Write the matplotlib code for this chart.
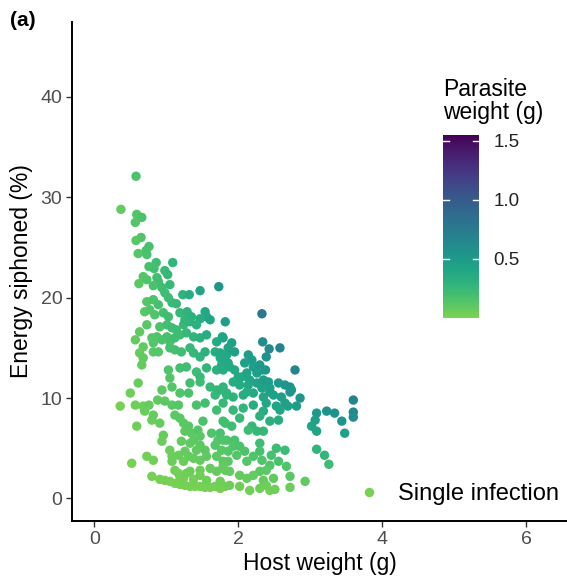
import numpy as np
import matplotlib
matplotlib.use("Agg")
import matplotlib.pyplot as plt
from matplotlib.colors import ListedColormap, Normalize
from matplotlib.lines import Line2D

plt.rcParams['font.family'] = ['Liberation Sans', 'DejaVu Sans']

# ---------------- data (host weight g, energy siphoned %, parasite weight g) ----------------
host_a = [0.58, 0.37, 0.59, 0.66, 0.57, 0.65, 0.58, 0.76, 0.72, 0.61, 0.73, 0.86, 0.76, 0.83,
          1.09, 0.98, 1.02, 0.68, 0.73, 0.62, 0.87, 0.89, 1.05, 0.82, 1.73, 1.47]
energy_a = [32.1, 28.8, 28.3, 28.0, 27.5, 26.0, 25.7, 25.1, 24.7, 24.4, 24.3, 23.5, 23.1, 22.9,
            23.5, 22.7, 22.3, 22.1, 21.8, 21.4, 22.0, 21.6, 21.3, 21.2, 21.1, 20.7]
parasite_a = [0.16, 0.07, 0.14, 0.17, 0.13, 0.15, 0.12, 0.18, 0.17, 0.13, 0.17, 0.21, 0.17, 0.19,
              0.29, 0.24, 0.25, 0.14, 0.15, 0.11, 0.20, 0.20, 0.25, 0.17, 0.53, 0.41]

host_b = [0.73, 0.82, 0.89, 0.94, 0.98, 1.03, 1.08, 1.14, 1.23, 1.32,
          0.70, 0.77, 0.84, 0.96, 1.03, 1.19, 1.29, 1.35, 1.54, 1.56, 1.47, 1.61,
          0.73, 0.63, 0.57, 0.91, 1.01, 1.08, 1.14, 1.24, 1.33, 1.42, 1.26,
          0.80, 0.87, 0.82, 0.94, 1.01, 1.05, 1.12, 1.19, 1.28, 1.38, 1.47, 1.56, 1.70, 1.79,
          0.68, 0.63, 0.68, 0.82, 0.89, 1.05, 1.12, 1.21, 1.33, 1.38, 1.47, 1.54, 1.68, 1.75, 1.84,
          0.66, 1.03, 1.05, 1.19, 1.28, 1.42, 1.47, 1.56, 1.70, 1.77, 1.86,
          0.61, 0.50, 0.94, 1.08, 1.19, 1.33, 1.47, 1.61, 1.70, 1.79]
energy_b = [19.6, 19.8, 19.3, 21.0, 20.5, 20.0, 19.5, 19.4, 20.3, 20.3,
            18.6, 18.8, 18.3, 18.5, 18.1, 18.5, 18.6, 18.1, 18.6, 18.1, 17.9, 17.8,
            17.3, 16.6, 15.8, 17.1, 17.3, 17.0, 16.8, 17.3, 17.6, 17.3, 17.8,
            16.0, 16.1, 15.5, 15.8, 16.1, 15.6, 16.0, 16.3, 16.5, 16.1, 16.0, 16.3, 15.6, 16.0,
            15.1, 14.5, 14.0, 14.6, 14.6, 15.0, 14.8, 14.6, 15.0, 14.5, 14.1, 14.6, 14.6, 14.0, 14.3,
            13.3, 12.8, 12.0, 13.0, 13.1, 12.6, 12.1, 13.0, 12.8, 13.3, 13.5,
            11.5, 10.5, 10.8, 11.1, 10.5, 11.5, 11.6, 11.1, 10.8, 11.1]
parasite_b = [0.13, 0.16, 0.18, 0.21, 0.22, 0.23, 0.24, 0.26, 0.30, 0.34,
              0.12, 0.14, 0.15, 0.19, 0.21, 0.26, 0.30, 0.31, 0.39, 0.39, 0.35, 0.40,
              0.12, 0.09, 0.07, 0.16, 0.19, 0.21, 0.22, 0.26, 0.30, 0.32, 0.28,
              0.13, 0.14, 0.13, 0.16, 0.18, 0.18, 0.21, 0.23, 0.26, 0.29, 0.31, 0.35, 0.38, 0.42,
              0.09, 0.08, 0.09, 0.12, 0.13, 0.18, 0.19, 0.21, 0.25, 0.26, 0.28, 0.31, 0.35, 0.36, 0.39,
              0.08, 0.15, 0.14, 0.19, 0.21, 0.23, 0.24, 0.28, 0.31, 0.34, 0.38,
              0.06, 0.04, 0.11, 0.14, 0.15, 0.19, 0.23, 0.25, 0.26, 0.29]

host_c = [0.36, 0.57, 0.68, 0.76, 0.70, 0.80, 0.82, 0.91, 0.59,
          0.88, 0.98, 1.08, 1.17, 1.31, 1.42, 1.54, 1.68, 1.79, 1.84,
          1.12, 1.19, 1.24, 1.31, 1.26, 1.35, 1.44, 1.47, 1.38, 1.51, 1.70, 1.63, 1.72, 1.82, 1.84,
          0.96, 0.94, 1.21, 1.33, 1.47, 1.42, 1.54, 1.68, 1.77, 1.86,
          1.05, 1.08, 1.17, 1.26, 1.31, 1.08, 1.24, 1.38, 1.47, 1.56, 1.70, 1.79, 1.86,
          0.73, 0.82, 0.52, 0.80, 1.12, 1.17, 1.33, 1.47, 1.61, 1.70, 1.82,
          0.91, 0.98, 1.05, 1.12, 1.19, 1.26, 1.33, 1.40, 1.47, 1.54, 1.61, 1.68, 1.75, 1.82,
          1.75, 1.56, 1.38, 1.24, 1.19, 1.28, 1.47]
energy_c = [9.2, 9.3, 9.2, 9.3, 8.7, 7.8, 8.3, 7.5, 7.2,
            9.8, 9.7, 9.3, 9.3, 10.5, 9.3, 9.5, 10.3, 9.5, 10.5,
            8.3, 8.0, 7.5, 7.2, 6.7, 6.5, 6.8, 6.2, 5.8, 7.7, 8.8, 6.5, 5.8, 7.5, 5.8,
            6.3, 5.7, 5.7, 5.5, 5.3, 4.8, 4.8, 5.3, 4.8, 4.7,
            4.8, 4.2, 4.3, 4.7, 4.2, 3.7, 3.7, 4.0, 3.8, 4.2, 4.2, 3.7, 3.7,
            4.2, 3.8, 3.5, 2.2, 2.8, 2.5, 2.7, 2.8, 3.0, 2.7, 2.8,
            1.9, 1.8, 1.7, 1.5, 1.4, 1.3, 1.2, 1.2, 1.2, 1.1, 1.1, 1.2, 1.0, 1.2,
            1.7, 1.8, 1.9, 2.0, 2.2, 2.5, 2.3]
parasite_c = [0.02, 0.04, 0.06, 0.07, 0.06, 0.06, 0.07, 0.07, 0.04,
              0.09, 0.10, 0.11, 0.13, 0.17, 0.17, 0.20, 0.25, 0.25, 0.29,
              0.11, 0.11, 0.11, 0.12, 0.10, 0.11, 0.13, 0.12, 0.10, 0.16, 0.21, 0.15, 0.14, 0.20, 0.16,
              0.07, 0.06, 0.08, 0.09, 0.10, 0.09, 0.10, 0.13, 0.12, 0.13,
              0.06, 0.05, 0.06, 0.07, 0.07, 0.05, 0.06, 0.07, 0.07, 0.09, 0.10, 0.10, 0.10,
              0.03, 0.03, 0.01, 0.02, 0.04, 0.03, 0.05, 0.05, 0.07, 0.07, 0.08,
              0.02, 0.02, 0.02, 0.02, 0.02, 0.02, 0.02, 0.02, 0.02, 0.02, 0.02, 0.03, 0.02, 0.03,
              0.04, 0.04, 0.03, 0.03, 0.03, 0.04, 0.04]

host_d = [2.33, 1.82, 1.78, 1.91, 1.86, 1.95, 1.75, 2.34, 2.43, 2.39, 2.58,
          2.14, 2.19, 2.09, 2.21, 2.30, 2.33, 2.38, 2.26,
          1.82, 1.79, 1.88, 1.95, 2.00, 1.93, 2.05, 2.12, 2.16, 2.02, 2.14, 2.26, 2.35, 2.42,
          2.33, 2.44, 2.56, 2.65, 2.72, 2.74, 2.79,
          1.75, 1.84, 1.93, 2.07, 2.21, 2.35, 2.49, 2.60, 2.86, 3.60]
energy_d = [18.4, 17.6, 16.1, 15.5, 15.0, 14.6, 14.5, 15.6, 14.9, 14.1, 15.0,
            14.3, 13.8, 13.5, 13.1, 13.3, 12.8, 12.8, 12.5,
            13.6, 12.8, 13.1, 12.8, 12.1, 11.6, 12.1, 12.5, 11.8, 11.3, 11.3, 11.5, 11.8, 11.6,
            11.0, 11.0, 11.5, 11.3, 11.1, 10.8, 12.8,
            10.8, 10.3, 10.1, 10.3, 10.5, 10.1, 10.3, 10.1, 10.0, 9.8]
parasite_d = [0.78, 0.48, 0.42, 0.45, 0.42, 0.44, 0.37, 0.61, 0.62, 0.57, 0.68,
              0.49, 0.49, 0.45, 0.47, 0.51, 0.50, 0.52, 0.47,
              0.37, 0.34, 0.37, 0.38, 0.38, 0.34, 0.39, 0.42, 0.41, 0.36, 0.39, 0.43, 0.47, 0.48,
              0.43, 0.46, 0.52, 0.54, 0.55, 0.54, 0.66,
              0.28, 0.28, 0.30, 0.34, 0.38, 0.40, 0.45, 0.47, 0.53, 0.68]

host_e = [2.12, 2.44, 2.72, 2.81, 2.69, 2.65, 2.58,
          1.93, 2.07, 2.21, 2.39, 2.53, 2.35, 2.30, 2.44, 2.56, 2.19, 2.26, 2.35, 2.14, 2.02,
          1.79, 1.91, 1.75,
          3.09, 3.07, 3.02, 3.09, 3.23, 3.34, 3.44, 3.48, 3.60, 3.60, 3.09, 3.20, 3.26,
          1.79, 1.95, 1.93, 2.02, 2.09, 2.30, 2.30, 2.21, 1.98, 2.12, 2.33, 2.46, 2.53, 2.65,
          2.44, 2.56, 2.67, 2.39, 2.30, 1.79, 1.88, 2.02, 2.12, 2.21, 2.35, 2.49, 2.72, 2.93,
          2.39, 2.30, 2.16, 2.02, 1.88, 2.44, 2.51, 2.72]
energy_e = [10.6, 10.6, 10.6, 9.2, 9.2, 9.5, 8.8,
            8.8, 9.0, 9.3, 9.5, 9.2, 8.7, 8.2, 7.7, 7.8, 7.2, 6.7, 6.7, 6.8, 8.0,
            7.7, 7.2, 6.5,
            8.5, 7.8, 7.2, 6.7, 8.7, 8.5, 7.7, 6.5, 8.6, 8.1, 4.9, 4.3, 3.4,
            5.8, 5.8, 5.2, 5.2, 4.7, 5.5, 4.7, 4.2, 4.3, 3.7, 3.8, 4.3, 5.0, 4.8,
            3.3, 3.7, 3.2, 2.8, 2.7, 3.2, 2.7, 2.3, 2.0, 2.3, 1.8, 2.0, 2.2, 1.7,
            1.3, 1.0, 0.8, 1.2, 1.3, 0.8, 0.9, 1.1]
parasite_e = [0.36, 0.44, 0.52, 0.48, 0.45, 0.45, 0.40,
              0.26, 0.29, 0.34, 0.39, 0.41, 0.34, 0.31, 0.32, 0.35, 0.26, 0.25, 0.27, 0.23, 0.25,
              0.20, 0.21, 0.17,
              0.51, 0.46, 0.42, 0.40, 0.56, 0.57, 0.54, 0.46, 0.65, 0.61, 0.29, 0.27, 0.22,
              0.15, 0.17, 0.15, 0.16, 0.16, 0.21, 0.18, 0.15, 0.13, 0.13, 0.15, 0.18, 0.22, 0.23,
              0.14, 0.17, 0.15, 0.11, 0.10, 0.08, 0.08, 0.07, 0.07, 0.08, 0.07, 0.09, 0.11, 0.09,
              0.05, 0.04, 0.03, 0.04, 0.04, 0.03, 0.04, 0.05]

x_ticks = [0, 2, 4, 6]
y_ticks = [0, 10, 20, 30, 40]
cbar_ticks = [0.5, 1.0, 1.5]
cbar_labels = ['0.5', '1.0', '1.5']

host = np.array(host_a + host_b + host_c + host_d + host_e)
energy = np.array(energy_a + energy_b + energy_c + energy_d + energy_e)
parasite = np.array(parasite_a + parasite_b + parasite_c + parasite_d + parasite_e)

# ---------------- figure ----------------
W, H = 567, 583
fig = plt.figure(figsize=(W / 100, H / 100), dpi=100)
ax = fig.add_axes([72 / W, 1 - 521 / H, 1 - 72 / W, (521 - 21.7) / H])

cmap = ListedColormap(plt.cm.viridis(np.linspace(0.8, 0.0, 256)))
norm = Normalize(vmin=0.0, vmax=1.55)

sc = ax.scatter(host, energy, c=parasite, cmap=cmap, norm=norm, s=46,
                linewidths=0, zorder=3)

ax.set_xlim(-0.31, 6.57)
ax.set_ylim(-2.25, 47.5)
ax.set_xticks(x_ticks)
ax.set_yticks(y_ticks)
for s in ['top', 'right']:
    ax.spines[s].set_visible(False)
for s in ['left', 'bottom']:
    ax.spines[s].set_linewidth(1.4)
    ax.spines[s].set_color('black')
ax.tick_params(axis='both', length=4, width=1.0, color='#333333',
               labelsize=14, labelcolor='#4d4d4d', pad=3)
ax.set_xlabel('Host weight (g)', fontsize=16.5, labelpad=3)
ax.set_ylabel('Energy siphoned (%)', fontsize=16.5, labelpad=5)

# legend for shape (single infection)
handle = Line2D([], [], marker='o', linestyle='none', markersize=6.8,
                markerfacecolor=cmap(0.0), markeredgewidth=0)
leg = ax.legend([handle], ['Single infection'], loc='center left',
                bbox_to_anchor=(357 / W, 1 - 494 / H), bbox_transform=fig.transFigure,
                frameon=False, fontsize=17, handletextpad=0.73, handlelength=1.0,
                borderaxespad=0, borderpad=0)

# colorbar
cax = fig.add_axes([442.7 / W, 1 - 318 / H, (479.3 - 442.7) / W, (318 - 135) / H])
cb = fig.colorbar(sc, cax=cax, ticks=cbar_ticks)
cb.outline.set_visible(False)
cb.ax.tick_params(length=0, labelsize=13.5, labelcolor='#222222', pad=10)
cb.ax.set_yticklabels(cbar_labels)
for t in cbar_ticks:
    cax.plot([0, 0.17], [t, t], color='white', lw=1.0, transform=cax.get_yaxis_transform())
    cax.plot([0.83, 1.0], [t, t], color='white', lw=1.0, transform=cax.get_yaxis_transform())
fig.text(443 / W, 1 - 119 / H, 'Parasite\nweight (g)', fontsize=16.5,
         ha='left', va='baseline', linespacing=1.0)

fig.text(10 / W, 1 - 26 / H, '(a)', fontsize=15, fontweight='bold', ha='left', va='baseline')

fig.savefig('out.png', dpi=100)
